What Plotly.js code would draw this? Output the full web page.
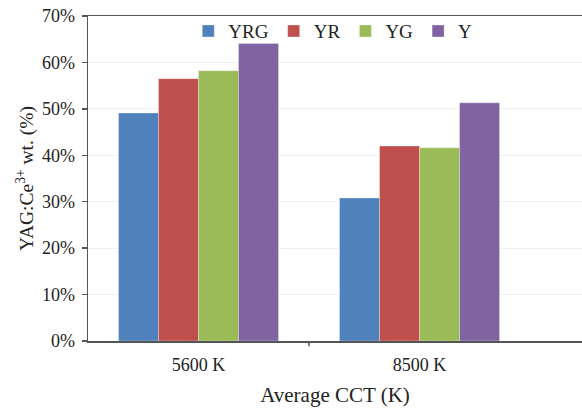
<!DOCTYPE html>
<html><head><meta charset="utf-8">
<script src="https://cdn.plot.ly/plotly-3.0.1.min.js"></script>
<style>html,body{margin:0;padding:0;background:#fff}#chart{width:582px;height:412px}</style>
</head><body><div id="chart"></div>
<script>
const categories = ['5600 K', '8500 K'];
const seriesNames = ['YRG', 'YR', 'YG', 'Y'];
const yrg = [0.491, 0.308];
const yr = [0.565, 0.420];
const yg = [0.582, 0.416];
const y = [0.641, 0.513];
const seriesValues = [yrg, yr, yg, y];
const colors = ['#4F81BD', '#C0504D', '#9BBB59', '#8064A2'];
const yTickVals = [0, 0.1, 0.2, 0.3, 0.4, 0.5, 0.6, 0.7];

const font = 'Liberation Serif, Times New Roman, serif';
const traces = seriesNames.map((n, i) => ({
  type: 'bar', name: n, x: categories, y: seriesValues[i],
  marker: {color: colors[i], line: {color: 'rgba(255,255,255,0.6)', width: 0.5}}
}));

const layout = {
  width: 582, height: 412,
  margin: {l: 88, r: 0, t: 16, b: 71},
  paper_bgcolor: '#fff', plot_bgcolor: '#fff',
  font: {family: font, color: '#222', size: 18},
  barmode: 'group', bargap: 0.276, bargroupgap: 0,
  showlegend: true,
  legend: {orientation: 'h', x: 0.203, xanchor: 'left', y: 1.012, yanchor: 'top',
           font: {family: font, size: 19, color: '#222'}, bgcolor: 'rgba(0,0,0,0)',
           traceorder: 'normal', itemwidth: 30},
  xaxis: {type: 'category', range: [-0.5, 1.735], showline: true, linecolor: '#555', linewidth: 1.5,
          mirror: true, ticks: '', showgrid: false, ticklabelstandoff: 7,
          tickfont: {family: font, size: 18, color: '#222'},
          title: {text: 'Average CCT (K)', font: {family: font, size: 21, color: '#222'}, standoff: 13}},
  yaxis: {range: [0, 0.7], tickvals: yTickVals, tickformat: '.0%', showline: true, linecolor: '#555',
          linewidth: 1.5, ticks: 'outside', ticklen: 5, tickcolor: '#555', tickwidth: 1.5,
          showgrid: true, gridcolor: '#f0f0f0', gridwidth: 1, zeroline: false,
          tickfont: {family: font, size: 18, color: '#222'}, ticklabelstandoff: 3,
          title: {text: 'YAG:Ce<sup>3+</sup> wt. (%)', font: {family: font, size: 19.5, color: '#222'}, standoff: 3}},
  shapes: [{type: 'line', xref: 'x', yref: 'paper', x0: 0.5, x1: 0.5, y0: 0, y1: -0.016,
            line: {color: '#555', width: 1.5}}]
};
Plotly.newPlot('chart', traces, layout, {displayModeBar: false, staticPlot: true});
</script></body></html>
